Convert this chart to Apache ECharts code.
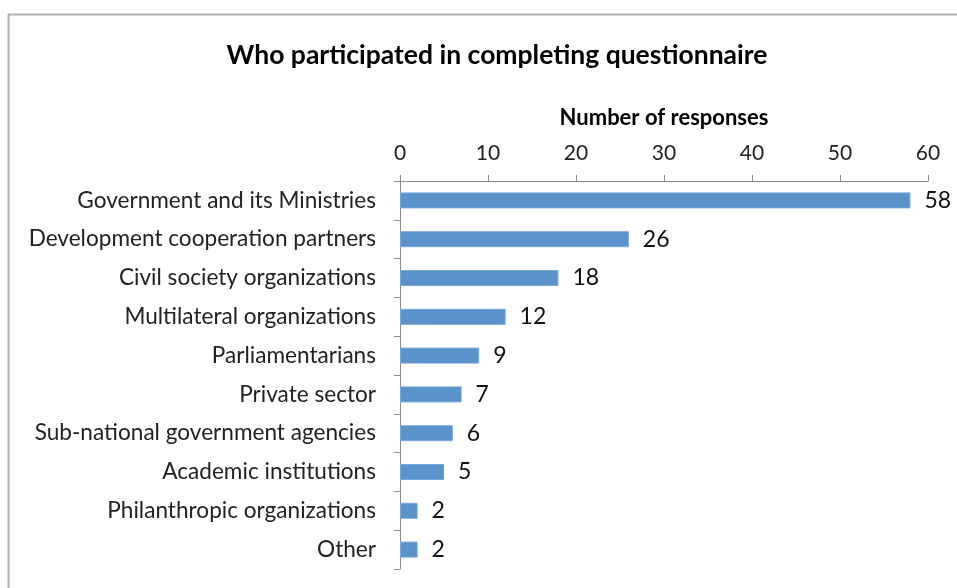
<!DOCTYPE html>
<html style="height: 100%">
<head>
  <meta charset="utf-8">
  <title>Who participated</title>
  <script src="https://cdn.jsdelivr.net/npm/echarts@6/dist/echarts.min.js"></script>
</head>
<body style="height: 100%; margin: 0; background: #fff">
<div id="container" style="width: 957px; height: 588px"></div>
<script type="text/javascript">
  // categories, top to bottom as in the picture
  var categories = [
    'Government and its Ministries',
    'Development cooperation partners',
    'Civil society organizations',
    'Multilateral organizations',
    'Parliamentarians',
    'Private sector',
    'Sub-national government agencies',
    'Academic institutions',
    'Philanthropic organizations',
    'Other'
  ];
  var responses = [58, 26, 18, 12, 9, 7, 6, 5, 2, 2];
  var xTicks = { min: 0, max: 60, interval: 10 };

  var myChart = echarts.init(document.getElementById('container'));
  var font = 'Lato, "Open Sans", sans-serif';

  var option = {
    animation: false,
    textStyle: { fontFamily: font },
    title: {
      text: 'Who participated in completing questionnaire',
      left: 492,
      textAlign: 'center',
      top: 37,
      textStyle: { fontFamily: font, fontSize: 26.5, fontWeight: 'bold', color: '#000' }
    },
    graphic: [{
      type: 'rect',
      shape: { x: 8.5, y: 14.5, width: 960, height: 600 },
      style: { fill: 'none', stroke: '#b0b0b0', lineWidth: 2 },
      silent: true
    }],
    grid: { left: 400, right: 29, top: 181, bottom: 19 },
    xAxis: {
      type: 'value',
      position: 'top',
      min: xTicks.min,
      max: xTicks.max,
      interval: xTicks.interval,
      name: 'Number of responses',
      nameLocation: 'middle',
      nameGap: 52,
      nameTextStyle: { fontFamily: font, fontSize: 22, fontWeight: 'bold', color: '#000' },
      axisLine: { show: true, lineStyle: { color: '#8c8c8c', width: 1 } },
      axisTick: { show: true, length: 6, lineStyle: { color: '#8c8c8c' } },
      axisLabel: { fontFamily: font, fontSize: 21, color: '#222', margin: 17 },
      splitLine: { show: false }
    },
    yAxis: {
      type: 'category',
      inverse: true,
      data: categories,
      axisLine: { show: true, lineStyle: { color: '#8c8c8c', width: 1 } },
      axisTick: { show: true, length: 6, alignWithLabel: false, lineStyle: { color: '#8c8c8c' } },
      axisLabel: { fontFamily: font, fontSize: 22.6, color: '#222', margin: 24 }
    },
    series: [{
      type: 'bar',
      data: responses,
      barWidth: 16,
      itemStyle: { color: '#5a92cb', borderColor: '#7aa7d6', borderWidth: 1 },
      label: {
        show: true,
        position: 'right',
        distance: 14,
        fontFamily: font,
        fontSize: 23,
        color: '#111'
      }
    }]
  };

  myChart.setOption(option);
</script>
</body>
</html>
